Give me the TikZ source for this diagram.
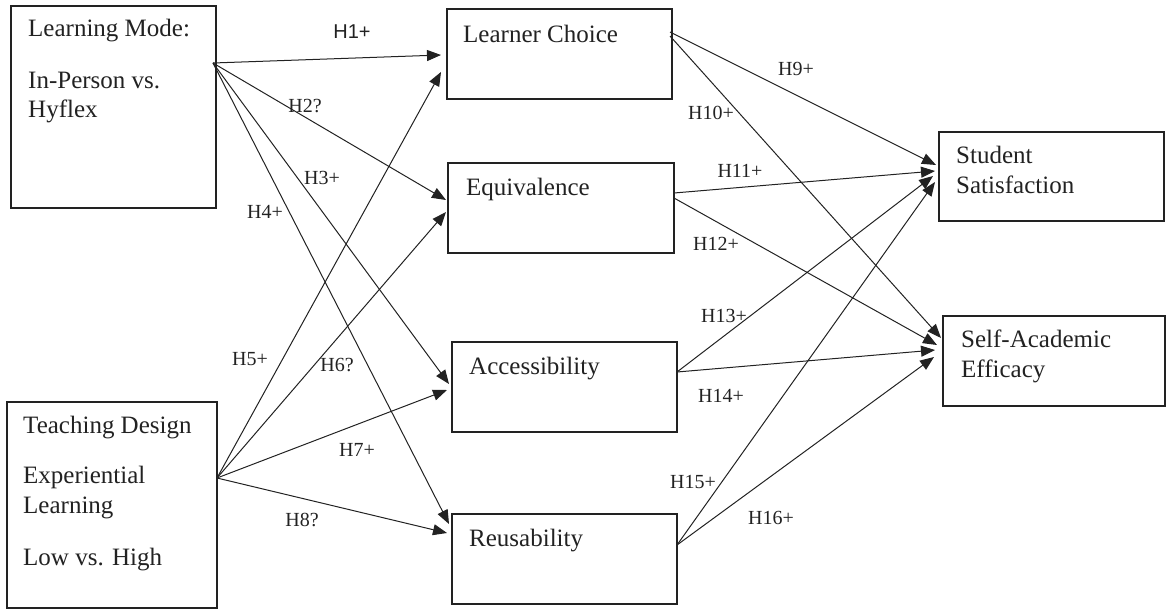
\documentclass[tikz,border=0pt]{standalone}
\usepackage{fontspec}
\setmainfont{Liberation Serif}
\newfontfamily\hsans{Liberation Sans}
\usetikzlibrary{arrows.meta}
\definecolor{ink}{HTML}{222222}
\tikzset{
  box/.style={draw=ink, line width=1.3pt, inner sep=0pt, outer sep=0pt, fill=none},
  txt/.style={anchor=base west, inner sep=0pt, font=\fontsize{25}{30}\selectfont, text=ink},
  hl/.style={inner sep=0pt, font=\fontsize{20}{24}\selectfont, text=ink},
  hls/.style={inner sep=0pt, font=\hsans\fontsize{20}{24}\selectfont, text=ink},
  conn/.style={draw=ink, line width=1pt, -{Triangle[length=14pt,width=11pt]}},
}
\begin{document}
\begin{tikzpicture}[x=1pt,y=-1pt]
\useasboundingbox (0,0) rectangle (1166,610);
% boxes
\node[box, minimum width=205pt, minimum height=202pt] (lm) at (113.5,107) {};
\node[box, minimum width=210pt, minimum height=206pt] (td) at (112,505) {};
\node[box, minimum width=225pt, minimum height=90pt] (lc) at (559.5,54) {};
\node[box, minimum width=226pt, minimum height=90pt] (eq) at (561,208) {};
\node[box, minimum width=225pt, minimum height=90pt] (ac) at (564.5,387) {};
\node[box, minimum width=225pt, minimum height=90pt] (re) at (564.5,559) {};
\node[box, minimum width=225pt, minimum height=89pt] (ss) at (1051.5,176.5) {};
\node[box, minimum width=222pt, minimum height=90pt] (se) at (1054,361) {};
% texts
\node[txt] (lm1) at (28,37) {Learning Mode:};
\node[txt] (lm2) at (28,88) {In-Person vs.};
\node[txt] (lm3) at (28,117) {Hyflex};
\node[txt] (td1) at (23,433) {Teaching Design};
\node[txt] (td2) at (23,483) {Experiential};
\node[txt] (td3) at (23,513) {Learning};
\node[txt] (td4) at (23,565) {Low vs. High};
\node[txt] (lct) at (463,42) {Learner Choice};
\node[txt] (eqt) at (466,195) {Equivalence};
\node[txt] (act) at (469,374) {Accessibility};
\node[txt] (ret) at (469,546) {Reusability};
\node[txt] (ss1) at (956,163) {Student};
\node[txt] (ss2) at (956,193) {Satisfaction};
\node[txt] (se1) at (961,347) {Self-Academic};
\node[txt] (se2) at (961,377) {Efficacy};
% connector end points
\coordinate (lmo) at (213,63);
\coordinate (tdo) at (217,478);
\coordinate (lci1) at (441,55);
\coordinate (lci2) at (441,72);
\coordinate (eqi1) at (446,200);
\coordinate (eqi2) at (446,212);
\coordinate (aci1) at (449,384);
\coordinate (aci2) at (447,390);
\coordinate (rei1) at (449,524);
\coordinate (rei2) at (447,533);
\coordinate (lco1) at (670,32);
\coordinate (lco2) at (670,36);
\coordinate (eqo1) at (674,193);
\coordinate (eqo2) at (674,198);
\coordinate (aco) at (677,372);
\coordinate (reo) at (677,545);
\coordinate (ssi1) at (936,165);
\coordinate (ssi2) at (935,171);
\coordinate (ssi3) at (933,176);
\coordinate (ssi4) at (935,182);
\coordinate (sei1) at (941,338);
\coordinate (sei2) at (937,345);
\coordinate (sei3) at (935,350);
\coordinate (sei4) at (934,357);
% connectors
\draw[conn] (lmo) -- (lci1);
\draw[conn] (lmo) -- (eqi1);
\draw[conn] (lmo) -- (aci1);
\draw[conn] (lmo) -- (rei1);
\draw[conn] (tdo) -- (lci2);
\draw[conn] (tdo) -- (eqi2);
\draw[conn] (tdo) -- (aci2);
\draw[conn] (tdo) -- (rei2);
\draw[conn] (lco1) -- (ssi1);
\draw[conn] (lco2) -- (sei1);
\draw[conn] (eqo1) -- (ssi2);
\draw[conn] (eqo2) -- (sei2);
\draw[conn] (aco) -- (ssi3);
\draw[conn] (aco) -- (sei3);
\draw[conn] (reo) -- (ssi4);
\draw[conn] (reo) -- (sei4);
% labels
\node[hls] (h1) at (352,32) {H1+};
\node[hl] (h2) at (305,106) {H2?};
\node[hl] (h3) at (322,178) {H3+};
\node[hl] (h4) at (265,212) {H4+};
\node[hl] (h5) at (250,359) {H5+};
\node[hl] (h6) at (337,365) {H6?};
\node[hl] (h7) at (357,450) {H7+};
\node[hl] (h8) at (302,520) {H8?};
\node[hl] (h9) at (796,69) {H9+};
\node[hl] (h10) at (711,113) {H10+};
\node[hl] (h11) at (740,171) {H11+};
\node[hl] (h12) at (716,244) {H12+};
\node[hl] (h13) at (724,316) {H13+};
\node[hl] (h14) at (721,396) {H14+};
\node[hl] (h15) at (693,482) {H15+};
\node[hl] (h16) at (771,518) {H16+};
\end{tikzpicture}
\end{document}
